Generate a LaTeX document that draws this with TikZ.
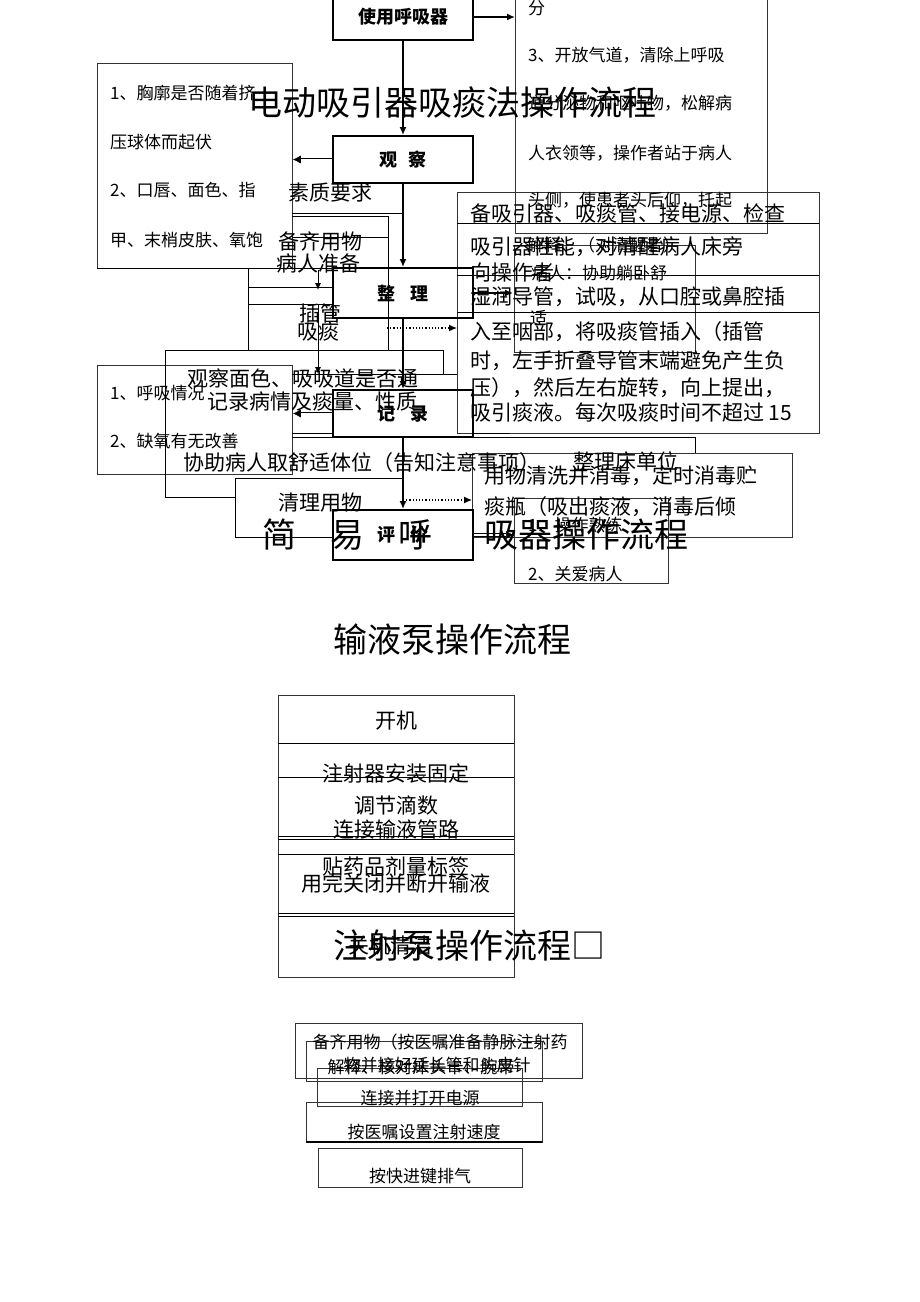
\documentclass[tikz,border=0pt]{standalone}
\usepackage{fontspec}
\newfontfamily\cjk{Noto Sans CJK SC}
\usetikzlibrary{arrows.meta}
\begin{document}
\begin{tikzpicture}[x=1pt,y=-1pt,
  flow/.style={draw, line width=2pt, minimum width=140pt, font=\cjk\bfseries\fontsize{18}{20}\selectfont, inner sep=0pt},
  tbox/.style={draw=black!80, line width=0.8pt, inner sep=0pt, anchor=north west},
  tl/.style={font=\cjk\fontsize{21}{24}\selectfont, inner sep=0pt},
  ts/.style={font=\cjk\fontsize{17}{20}\selectfont, inner sep=0pt},
  bigt/.style={font=\cjk\fontsize{34}{37}\selectfont, inner sep=0pt},
  ln/.style={line width=0.8pt},
  arr/.style={line width=1.5pt, -{Latex[length=8pt,width=7pt]}},
  tarr/.style={line width=0.8pt, -{Latex[length=7pt,width=6pt]}},
  darr/.style={line width=0.6pt, double, double distance=2pt, -{Latex[length=8pt,width=8pt]}},
  dotarr/.style={line width=1.2pt, dotted, -{Latex[length=8pt,width=7pt]}},
]
\useasboundingbox (0,0) rectangle (920,1302);
\fill[white] (0,0) rectangle (920,1302);

% ---------- text boxes ----------
\node[tbox, minimum width=252pt, minimum height=243pt] (rt) at (515,-10) {};
\node[tbox, minimum width=195pt, minimum height=205pt] (lb1) at (97,63) {};
\node[tbox, minimum width=195pt, minimum height=109pt] (lb2) at (97,365) {};
\node[tbox, minimum width=362pt, minimum height=241pt] (rbig) at (457,192) {};
\node[tbox, minimum width=181pt, minimum height=107pt] (sb) at (514,245) {};
\node[tbox, minimum width=320pt, minimum height=84pt] (cl) at (472,453) {};
\node[tbox, minimum width=154pt, minimum height=85pt] (ev2) at (514,498) {};

\draw[ln] (457,223) -- (819,223);
\draw[ln] (457,275) -- (819,275);
\draw[ln] (457,312) -- (819,312);

% ---------- flow boxes ----------
\node[flow, minimum height=46pt] (use) at (403,17) {使用呼吸器};
\node[flow, minimum height=47pt] (obs) at (403,159.5) {观\hspace{12pt}察};
\node[flow, minimum height=50pt] (org) at (403,293) {整\hspace{16pt}理};
\node[flow, minimum height=47pt] (rec) at (403,413.5) {记\hspace{16pt}录};
\node[flow, minimum height=50pt] (eva) at (403,535) {评\hspace{16pt}价};

% ---------- thin line network ----------
\draw[ln] (292,213) -- (402,213);
\draw[ln] (292,216) -- (388,216) -- (388,350);
\draw[ln] (292,237) -- (388,237);
\draw[ln] (97,268) -- (333,268);
\draw[ln] (248,268) -- (248,350);
\draw[ln] (248,287) -- (333,287);
\draw[ln] (248,304) -- (333,304);
\draw[ln] (165,497) -- (165,350) -- (443,350) -- (443,374);
\draw[ln] (165,497) -- (235,497);
\draw[ln] (292,374) -- (457,374);
\draw[ln] (292,433) -- (333,433);
\draw[ln] (292,437) -- (333,437);
\draw[ln] (473,433) -- (510,433);
\draw[ln] (473,437) -- (695,437) -- (695,453);
\draw[ln] (403,478) -- (235,478) -- (235,537) -- (333,537);

% ---------- connectors ----------
\coordinate (orgE) at (513,293);
\coordinate (dotA) at (387,328);
\coordinate (dotB) at (403,500);
\coordinate (pa1) at (318,270);
\coordinate (pa2) at (318,290);
\coordinate (pb1) at (318,304);
\coordinate (pb2) at (318,374);
\draw[arr] (use.east) -- (use.east -| rt.west);
\draw[arr] (use.south) -- (obs.north);
\draw[darr] (obs.west) -- (obs.west -| lb1.east);
\draw[arr] (obs.south) -- (org.north);
\draw[arr] (org.east) -- (orgE);
\draw[dotarr] (dotA) -- (dotA -| rbig.west);
\draw[arr] (org.south) -- (rec.north);
\draw[darr] (rec.west) -- (rec.west -| lb2.east);
\draw[arr] (rec.south) -- (eva.north);
\draw[dotarr] (dotB) -- (dotB -| cl.west);
\draw[darr] (eva.east) -- (eva.east -| ev2.west);
\draw[tarr] (pa1) -- (pa2);
\draw[tarr] (pb1) -- (pb2);

% ---------- left boxes text ----------
\node[ts, anchor=west] (l1a) at (110,93) {1、胸廓是否随着挤};
\node[ts, anchor=west] (l1b) at (110,142) {压球体而起伏};
\node[ts, anchor=west] (l1c) at (110,190) {2、口唇、面色、指};
\node[ts, anchor=west] (l1d) at (110,240) {甲、末梢皮肤、氧饱};
\node[ts, anchor=west] (l2a) at (110,393) {1、呼吸情况};
\node[ts, anchor=west] (l2b) at (110,441) {2、缺氧有无改善};

% ---------- right top box text ----------
\node[ts, anchor=west] (r1) at (528,8) {分};
\node[ts, anchor=west] (r2) at (528,55) {3、开放气道，清除上呼吸};
\node[ts, anchor=west] (r3) at (528,103) {道分泌物和呕吐物，松解病};
\node[ts, anchor=west] (r4) at (528,153) {人衣领等，操作者站于病人};
\node[ts, anchor=west] (r5) at (528,200) {头侧，使患者头后仰，托起};

% ---------- title 1 ----------
\node[bigt] (t1) at (452,103) {电动吸引器吸痰法操作流程};

% ---------- middle texts ----------
\node[tl] (m1) at (330,193) {素质要求};
\node[tl] (m2) at (320,242) {备齐用物};
\node[tl] (m3) at (318,263) {病人准备};
\node[tl] (m4) at (320,313) {插管};
\node[tl] (m5) at (318,332) {吸痰};
\node[tl, anchor=west] (m6) at (187,378) {观察面色、吸吸道是否通};
\node[tl, anchor=west] (m7) at (207,402) {记录病情及痰量、性质};
\node[tl, anchor=west] (m8) at (183,463) {协助病人取舒适体位（告知注意事项）};
\node[tl, anchor=west] (m9) at (573,461) {整理床单位};
\node[tl] (m10) at (320,503) {清理用物};

% ---------- right big box text ----------
\node[tl, anchor=west] (b1) at (470,213) {备吸引器、吸痰管、接电源、检查};
\node[tl, anchor=west] (b2) at (470,247) {吸引器性能，对清醒病人床旁};
\node[tl, anchor=west] (b3) at (470,273) {向操作者};
\node[tl, anchor=west] (b4) at (470,297) {湿润导管，试吸，从口腔或鼻腔插};
\node[tl, anchor=west] (b5) at (470,332) {入至咽部，将吸痰管插入（插管};
\node[tl, anchor=west] (b6) at (470,361) {时，左手折叠导管末端避免产生负};
\node[tl, anchor=west] (b7) at (470,388) {压），然后左右旋转，向上提出，};
\node[tl, anchor=west] (b8) at (470,413) {吸引痰液。每次吸痰时间不超过 15};

% ---------- small box text ----------
\node[ts, anchor=west] (s1) at (527,245) {解释、（对清醒者）};
\node[ts, anchor=west] (s2) at (531,273) {病人：协助躺卧舒};
\node[ts, anchor=west] (s3) at (530,318) {适};

% ---------- clean box / eval box text ----------
\node[tl, anchor=west] (c1) at (484,476) {用物清洗并消毒，定时消毒贮};
\node[tl, anchor=west] (c2) at (484,507) {痰瓶（吸出痰液，消毒后倾};
\node[ts, anchor=west] (e1) at (528,525) {1、操作熟练};
\node[ts, anchor=west] (e2) at (528,574) {2、关爱病人};

% ---------- title 2 ----------
\node[bigt, anchor=west] (t2) at (262,535) {简\hspace{34pt}易\hspace{34pt}呼\hspace{52pt}吸器操作流程};

% ---------- infusion pump ----------
\node[bigt] (t3) at (452,640) {输液泵操作流程};
\node[tbox, minimum width=236pt, minimum height=282pt] (pump) at (278,695) {};
\draw[ln] (278,743) -- (514,743);
\draw[ln] (278,777) -- (514,777);
\draw[ln] (278,836) -- (514,836);
\draw[ln] (278,839) -- (514,839);
\draw[ln] (278,854) -- (514,854);
\draw[ln] (278,913) -- (514,913);
\draw[ln] (278,916) -- (514,916);
\node[tl] (p1) at (396,721) {开机};
\node[tl] (p2) at (396,773) {注射器安装固定};
\node[tl] (p3) at (396,805) {调节滴数};
\node[tl] (p4) at (396,829) {连接输液管路};
\node[tl] (p5) at (396,866) {贴药品剂量标签};
\node[tl] (p6) at (396,883) {用完关闭并断开输液};
\node[tl] (p7) at (390,946) {关机清洁};
\node[bigt, anchor=west] (t4) at (333,946) {注射泵操作流程□};

% ---------- syringe pump ----------
\node[tbox, minimum width=287pt, minimum height=55pt] (q1) at (295,1023) {};
\node[tbox, minimum width=236pt, minimum height=40pt] (q2) at (306,1041) {};
\node[tbox, minimum width=205pt, minimum height=38pt] (q3) at (317,1068) {};
\node[tbox, minimum width=236pt, minimum height=40pt] (q4) at (306,1102) {};
\node[tbox, minimum width=204pt, minimum height=39pt] (q5) at (318,1148) {};
\draw[line width=1.6pt] (306,1142) -- (542,1142);
\node[ts] (qt1) at (440,1042) {备齐用物（按医嘱准备静脉注射药};
\node[ts] (qt2) at (437,1065) {物并接好延长管和头皮针};
\node[ts] (qt3) at (421,1067) {解释、核对床头卡、腕带};
\node[ts] (qt4) at (420,1098) {连接并打开电源};
\node[ts] (qt5) at (424,1132) {按医嘱设置注射速度};
\node[ts] (qt6) at (420,1176) {按快进键排气};
\end{tikzpicture}
\end{document}
